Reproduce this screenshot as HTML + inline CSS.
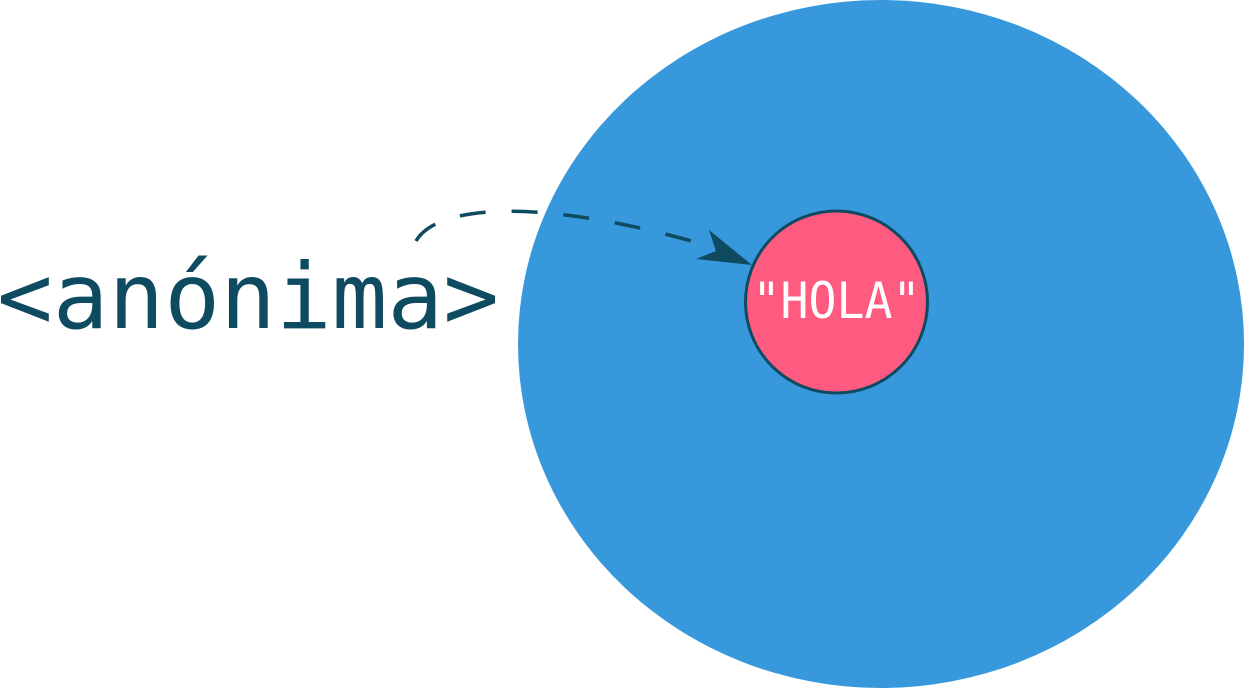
<!DOCTYPE html>
<html><head><meta charset="utf-8"><style>html,body{margin:0;padding:0;background:#fff;width:1245px;height:688px;overflow:hidden}</style></head>
<body>
<svg width="1245" height="688" viewBox="0 0 1245 688" xmlns="http://www.w3.org/2000/svg">
<ellipse cx="881" cy="344" rx="363" ry="344" fill="#3798DB"/>
<circle cx="836.5" cy="302" r="91" fill="#FF5A7F" stroke="#0E4A60" stroke-width="3"/>
<text x="836.5" y="318" text-anchor="middle" font-family="'DejaVu Sans Mono','Liberation Mono',monospace" font-size="50" fill="#fff" textLength="168" lengthAdjust="spacingAndGlyphs">"HOLA"</text>
<text x="-3" y="328" font-family="'DejaVu Sans Mono','Liberation Mono',monospace" font-size="91" fill="#0E4A60" textLength="502" lengthAdjust="spacingAndGlyphs">&lt;anónima&gt;</text>
<path d="M416,241 C440,200 560,200 722,250" fill="none" stroke="#0E4A60" stroke-width="3.5" stroke-dasharray="26,26"/>
<path d="M752,265 L709,230 L716,251 L696,259 Z" fill="#0E4A60"/>
</svg>
</body></html>
